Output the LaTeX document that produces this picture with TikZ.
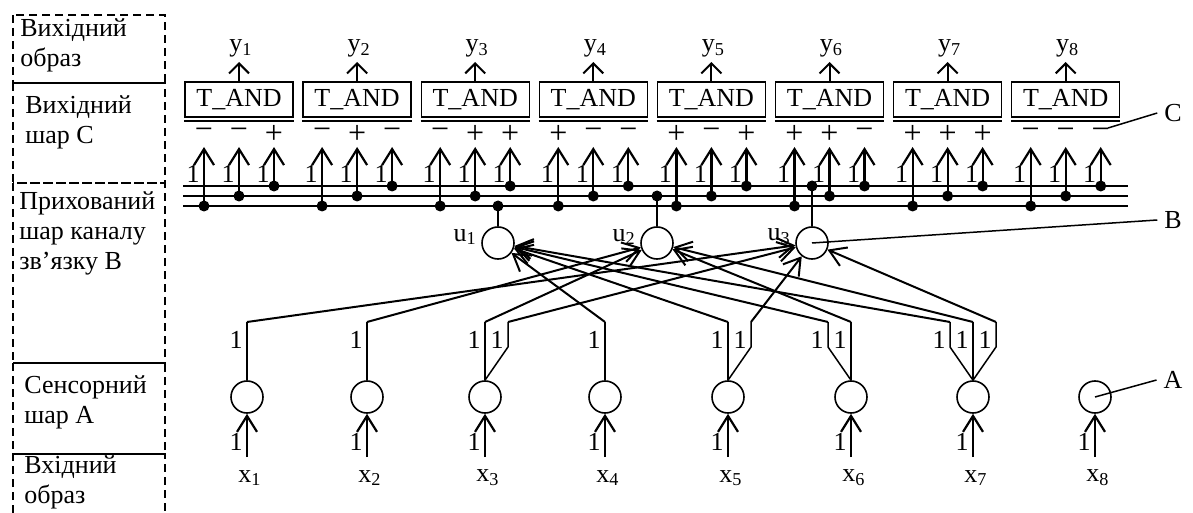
\documentclass[tikz,border=0pt]{standalone}
\usepackage{fontspec}
\setmainfont{Liberation Serif}
\usetikzlibrary{arrows.meta, positioning, calc}

\begin{document}
\begin{tikzpicture}[
    x=0.5pt, y=-0.5pt,
    font=\fontsize{13}{15}\selectfont,
    band/.style     ={draw, line width=0.7pt, dash pattern=on 4pt off 2.5pt},
    bandtext/.style ={anchor=west, align=left, inner sep=0pt},
    andbox/.style   ={draw, line width=0.7pt, minimum width=54pt,
                      minimum height=17.5pt, inner sep=1pt},
    neuron/.style   ={draw, circle, line width=0.8pt, minimum size=16pt, inner sep=0pt},
    tap/.style      ={circle, fill, inner sep=0pt, minimum size=5.5pt},
    sign/.style     ={inner sep=0pt, font=\fontsize{16}{16}\selectfont},
    wire/.style     ={line width=0.75pt},
    inflow/.style   ={-{Straight Barb[length=8pt, width=10pt]}, line width=1.1pt},
    outflow/.style  ={-{Straight Barb[length=5pt, width=10pt]}, line width=1pt},
    link/.style     ={-{Straight Barb[length=8pt, width=10pt]}, line width=1pt},
    weight/.style   ={inner sep=0pt}
]
\useasboundingbox (0,0) rectangle (1193,513);

% Layer captions on the left
\draw[band] (13,15) rectangle (165,83);
\draw[band] (13,83) rectangle (165,183);
\draw[band] (13,183) rectangle (165,363);
\draw[band] (13,363) rectangle (165,454);
\draw[band] (13,513) -- (13,454) -- (165,454) -- (165,513);

\node[bandtext] (capY) at (20,45)  {Вихідний\\образ};
\node[bandtext] (capC) at (25,122) {Вихідний\\шар С};
\node[bandtext] (capB) at (19,233) {Прихований\\шар каналу\\зв’язку В};
\node[bandtext] (capA) at (24,402) {Сенсорний\\шар А};
\node[bandtext] (capX) at (24,482) {Вхідний\\образ};

% Bus of hidden layer (line k carries u_k)
\foreach \k/\by in {1/206, 2/196, 3/186} {
  \coordinate (busL\k) at (183,\by);
  \coordinate (busR\k) at (1128,\by);
  \draw[wire] (busL\k) -- (busR\k);
}

% Output layer C: T_AND blocks with signed inputs
\foreach \i/\sa/\sb/\sc in {1/−/−/+, 2/−/+/−, 3/−/+/+, 4/+/−/−,
                            5/+/−/+, 6/+/+/−, 7/+/+/+, 8/−/−/−} {
  \pgfmathsetmacro{\cx}{239+118.1*(\i-1)}
  \node[andbox] (and\i) at (\cx,99.5) {T\_AND};
  \draw[wire] ($(and\i.south west)+(0,3.5)$) -- ($(and\i.south east)+(0,3.5)$);
  \coordinate (out\i) at (\cx,62);
  \node[anchor=south, inner sep=0pt] (y\i) at (\cx+2,58) {y\textsubscript{\i}};
  \draw[outflow] (and\i.north) -- (out\i);
  \foreach \k/\s in {1/\sa, 2/\sb, 3/\sc} {
    \pgfmathsetmacro{\ix}{\cx+35*(\k-2)}
    \pgfmathsetmacro{\iy}{216-10*\k}
    \node[sign] (sg\i\k) at (\ix,134) {\s};
    \node[tap] (tap\i\k) at (\ix,\iy) {};
    \coordinate (in\i\k) at (\ix,147);
    \draw[inflow] (tap\i\k.center) -- (in\i\k);
    \node[weight] (w\i\k) at (\ix-11,174) {1};
  }
}

% Hidden layer B
\foreach \k/\ux/\by in {1/498/206, 2/657/196, 3/812/186} {
  \node[neuron] (u\k) at (\ux,243) {};
  \node[tap] (tu\k) at (\ux,\by) {};
  \draw[wire] (tu\k.center) -- (u\k.north);
  \node[anchor=east, inner sep=0pt] (lu\k) at ($(u\k.west)+(-4,-6)$) {u\textsubscript{\k}};
}

% Sensor layer A with inputs x
\foreach \j/\ax in {1/247, 2/367, 3/485, 4/605, 5/728, 6/851, 7/973, 8/1095} {
  \node[neuron] (a\j) at (\ax,397) {};
  \coordinate (src\j) at (\ax,457);
  \draw[inflow] (src\j) -- (a\j.south);
  \node[weight] (wa\j) at (\ax-11,442) {1};
  \node (x\j) at (\ax+3,478) {x\textsubscript{\j}};
}

% Branch tops A -> B
\coordinate (b1a) at (247,322);
\coordinate (b2a) at (367,322);
\coordinate (b3a) at (485,322);
\coordinate (b3b) at (508,322);
\coordinate (b4a) at (605,322);
\coordinate (b5a) at (728,322);
\coordinate (b5b) at (751,322);
\coordinate (b6a) at (828,322);
\coordinate (b6b) at (851,322);
\coordinate (b7a) at (950,322);
\coordinate (b7b) at (973,322);
\coordinate (b7c) at (996,322);

% straight branches
\foreach \j/\b/\t in {1/b1a/u3, 2/b2a/u2, 3/b3a/u2, 4/b4a/u1,
                      5/b5a/u1, 6/b6b/u2, 7/b7b/u2} {
  \draw[wire] (a\j.north) -- (\b);
  \draw[link] (\b) -- (\t);
  \node[weight] at ($(\b)+(-11,18)$) {1};
}
% bent branches
\foreach \j/\b/\t in {3/b3b/u3, 5/b5b/u3, 6/b6a/u1, 7/b7a/u1, 7/b7c/u3} {
  \draw[wire] (a\j.north) -- ($(\b)+(0,25)$) -- (\b);
  \draw[link] (\b) -- (\t);
  \node[weight] at ($(\b)+(-11,18)$) {1};
}

% Layer markers on the right
\node (lc) at (1173,113) {C};
\node (lb) at (1173,220) {B};
\node (la) at (1173,380) {A};
\coordinate (cpt) at (1108,128);
\draw[wire] (cpt) -- (lc.west);
\draw[wire] (u3.center) -- (lb.west);
\draw[wire] (a8.center) -- (la.west);

\end{tikzpicture}
\end{document}
